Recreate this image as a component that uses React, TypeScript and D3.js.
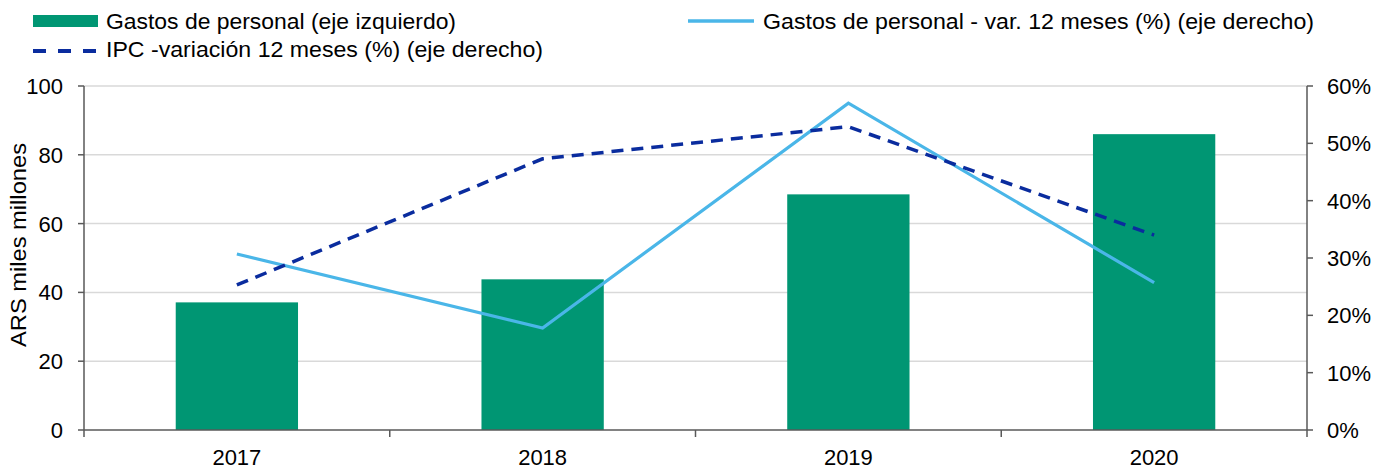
import React from "react";
import * as d3 from "d3";

const years = ["2017", "2018", "2019", "2020"];
const gastos = [37.1, 43.8, 68.5, 86.0];
const gastosVar = [30.7, 17.8, 57.0, 25.7];
const ipcVar = [25.3, 47.3, 52.9, 34.0];
const leftTicks = [0, 20, 40, 60, 80, 100];
const rightTicks = [0, 10, 20, 30, 40, 50, 60];

const W = 1388;
const H = 469;
const M = { left: 84, right: 1307, top: 86, bottom: 430 };
const FONT = "'Liberation Sans', Arial, sans-serif";
const GREEN = "#009673";
const LBLUE = "#4ab6e8";
const DBLUE = "#0a2c9e";
const AXIS = "#595959";

export default function App() {
  const x = d3.scaleBand<string>().domain(years).range([M.left, M.right]).paddingInner(0).paddingOuter(0);
  const yL = d3.scaleLinear().domain([0, 100]).range([M.bottom, M.top]);
  const yR = d3.scaleLinear().domain([0, 60]).range([M.bottom, M.top]);
  const barW = x.bandwidth() * 0.4;
  const cx = (d: string) => (x(d) as number) + x.bandwidth() / 2;

  const line = d3
    .line<number>()
    .x((_, i) => cx(years[i]))
    .y((d) => yR(d));

  const bounds = [...years.map((y) => x(y) as number), M.right];

  return (
    <svg width={W} height={H} style={{ position: "absolute", left: 0, top: 0, fontFamily: FONT }}>
      {/* gridlines */}
      {leftTicks.slice(1).map((t) => (
        <line key={t} x1={M.left} x2={M.right} y1={yL(t)} y2={yL(t)} stroke="#d9d9d9" strokeWidth={1.5} />
      ))}
      {/* bars */}
      {years.map((y, i) => (
        <rect key={y} x={cx(y) - barW / 2} y={yL(gastos[i])} width={barW} height={M.bottom - yL(gastos[i])} fill={GREEN} />
      ))}
      {/* lines */}
      <path d={line(gastosVar) || ""} fill="none" stroke={LBLUE} strokeWidth={3.2} />
      <path d={line(ipcVar) || ""} fill="none" stroke={DBLUE} strokeWidth={3.5} strokeDasharray="12 8" />
      {/* axes */}
      <line x1={M.left} x2={M.left} y1={M.top} y2={M.bottom} stroke={AXIS} strokeWidth={1.5} />
      <line x1={M.right} x2={M.right} y1={M.top} y2={M.bottom} stroke={AXIS} strokeWidth={1.5} />
      <line x1={M.left} x2={M.right} y1={M.bottom} y2={M.bottom} stroke={AXIS} strokeWidth={1.5} />
      {leftTicks.map((t) => (
        <g key={t}>
          <line x1={M.left - 6} x2={M.left} y1={yL(t)} y2={yL(t)} stroke={AXIS} strokeWidth={1.5} />
          <text x={63} y={yL(t)} dy="0.36em" textAnchor="end" fontSize={22} fill="#000">
            {t}
          </text>
        </g>
      ))}
      {rightTicks.map((t) => (
        <g key={t}>
          <line x1={M.right} x2={M.right + 6} y1={yR(t)} y2={yR(t)} stroke={AXIS} strokeWidth={1.5} />
          <text x={1327} y={yR(t)} dy="0.36em" textAnchor="start" fontSize={22} fill="#000">
            {t}%
          </text>
        </g>
      ))}
      {bounds.map((b, i) => (
        <line key={i} x1={b} x2={b} y1={M.bottom} y2={M.bottom + 7} stroke={AXIS} strokeWidth={1.5} />
      ))}
      {years.map((y) => (
        <text key={y} x={cx(y)} y={465} textAnchor="middle" fontSize={22} fill="#000">
          {y}
        </text>
      ))}
      <text
        transform={`translate(26, 245) rotate(-90)`}
        x={-102}
        textLength={204}
        lengthAdjust="spacingAndGlyphs"
        fontSize={22.5}
        fill="#000"
      >
        ARS miles millones
      </text>
      {/* legend */}
      <rect x={33} y={15} width={65} height={12} fill={GREEN} />
      <text x={106} y={28.5} fontSize={22} fill="#000" textLength={350} lengthAdjust="spacingAndGlyphs">
        Gastos de personal (eje izquierdo)
      </text>
      <line x1={33} x2={98} y1={51} y2={51} stroke={DBLUE} strokeWidth={4} strokeDasharray="13 12" />
      <text x={106} y={57} fontSize={22} fill="#000" textLength={437} lengthAdjust="spacingAndGlyphs">
        IPC -variación 12 meses (%) (eje derecho)
      </text>
      <line x1={688} x2={754} y1={21} y2={21} stroke={LBLUE} strokeWidth={3.5} />
      <text x={763} y={28.5} fontSize={22} fill="#000" textLength={551} lengthAdjust="spacingAndGlyphs">
        Gastos de personal - var. 12 meses (%) (eje derecho)
      </text>
    </svg>
  );
}
